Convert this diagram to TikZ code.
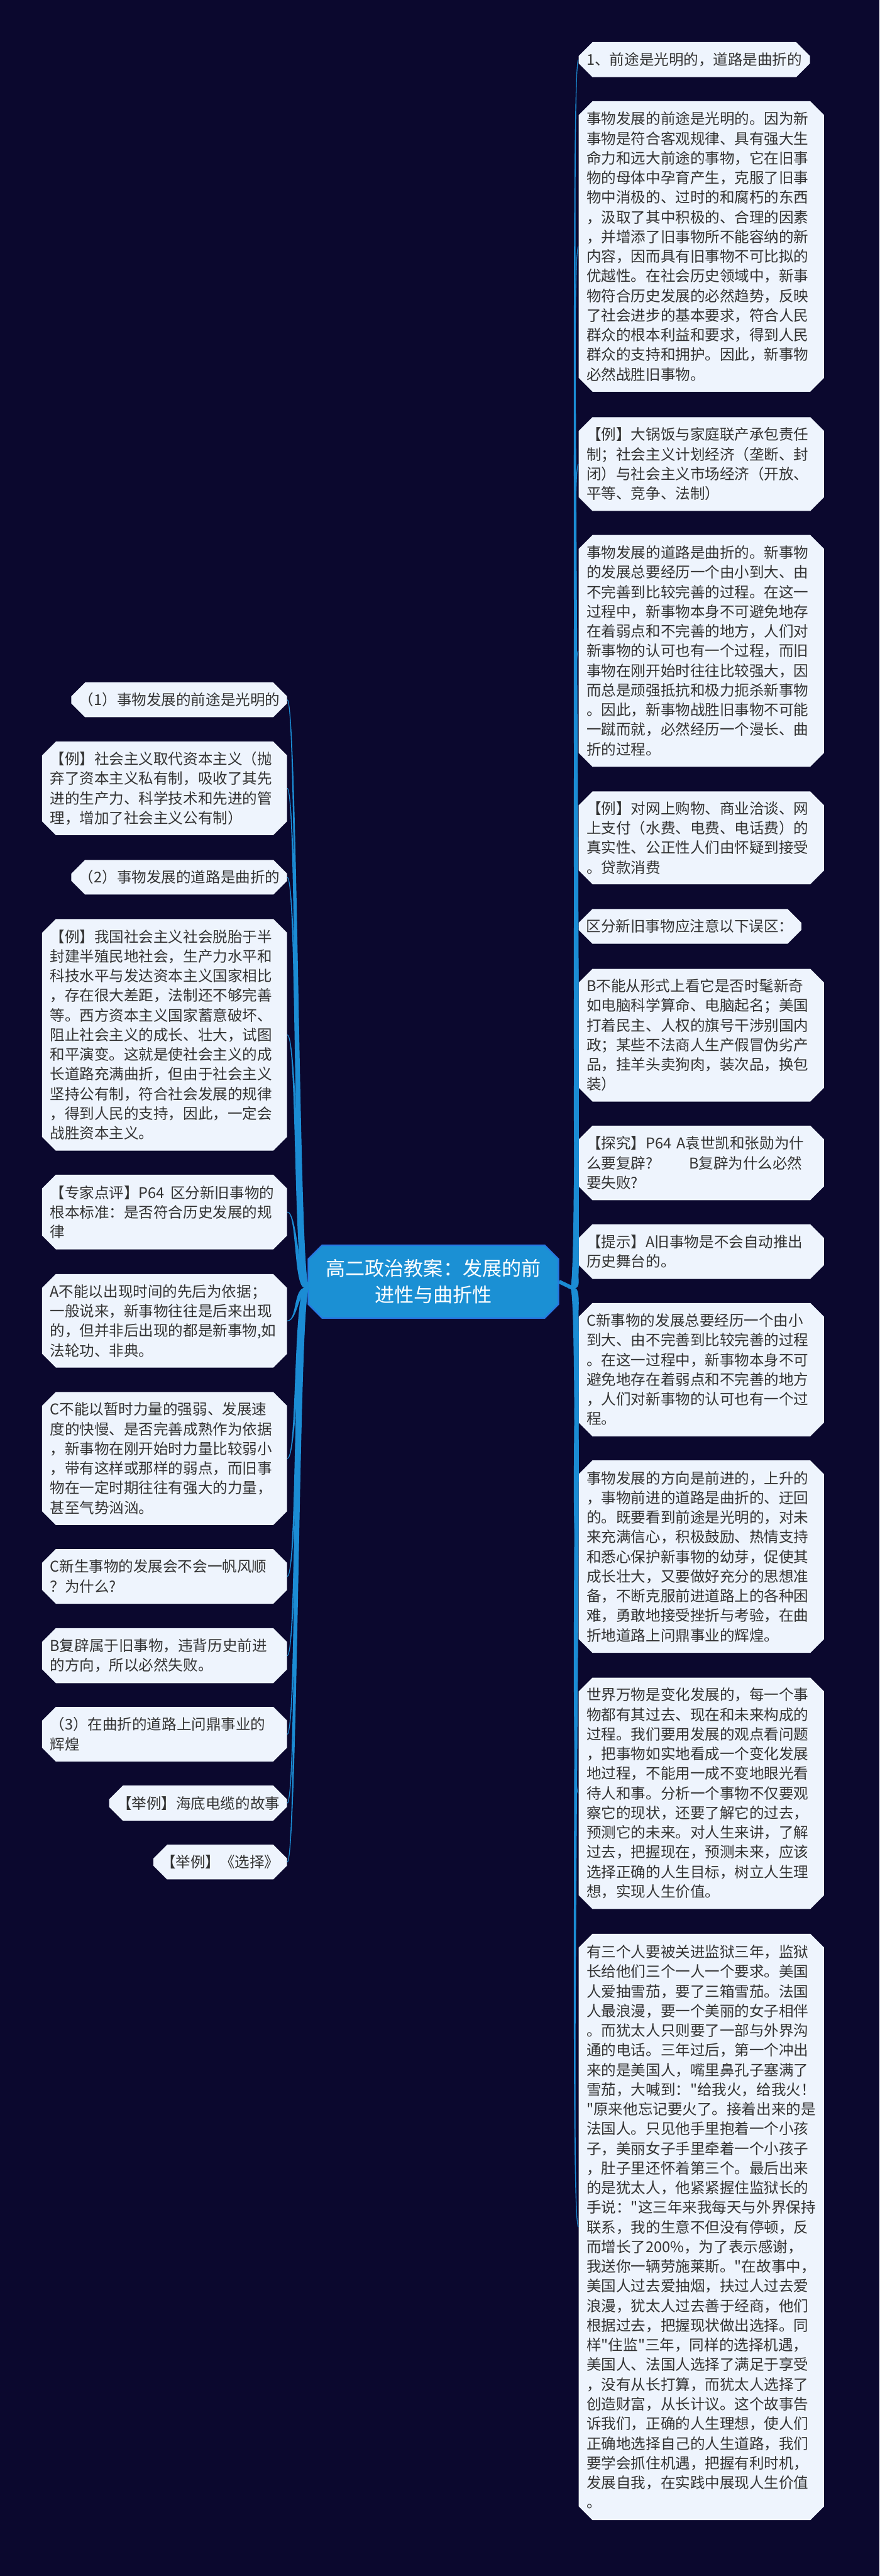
\documentclass[tikz,border=0pt]{standalone}
\usepackage{fontspec}
\setmainfont{Noto Sans CJK SC}[Ligatures=TeXOff]
\usetikzlibrary{calc,shapes.misc}
\definecolor{bgc}{RGB}{11,8,46}
\definecolor{leafc}{RGB}{238,244,253}
\definecolor{inkc}{RGB}{51,51,51}
\definecolor{twigc}{RGB}{27,140,212}
\definecolor{rootc}{RGB}{27,144,212}
\definecolor{rootline}{RGB}{40,118,226}
\newcommand{\leaffont}{\fontsize{12.26pt}{16.27pt}\selectfont}
\newcommand{\rootfont}{\fontsize{16.2pt}{21.9pt}\selectfont}
\newcommand{\rtwig}[1]{\filldraw[twig] ($(rr)+(-0.05,0)$) .. controls +(0.3,0) and +(-0.3,0) .. (#1.west) .. controls +(-0.3,0) and +(0.35,0) .. ($(rr)+(0.05,0)$) -- cycle;}
\newcommand{\ltwig}[1]{\filldraw[twig] ($(lr)+(0.05,0)$) .. controls +(-0.3,0) and +(0.3,0) .. (#1.east) .. controls +(0.3,0) and +(-0.35,0) .. ($(lr)+(-0.05,0)$) -- cycle;}

\begin{document}
\begin{tikzpicture}[y=-1cm,
    leaf/.style={chamfered rectangle, chamfered rectangle xsep=0.2cm, chamfered rectangle ysep=0.2cm,
        fill=leafc, text=inkc, anchor=north west, inner xsep=0pt, inner ysep=0pt, align=left, font=\leaffont},
    wide/.style={minimum width=7.14cm, text width=6.68cm},
    lwide/.style={minimum width=7.13cm, text width=6.67cm},
    twig/.style={fill=twigc, draw=twigc, line width=0.02cm},
    stub/.style={twigc, line width=0.11cm}]
    \useasboundingbox (0,0) rectangle (25.6,74.94);
    \fill[bgc] (0,0) rectangle (25.6,74.94);

    \node[leaf, chamfered rectangle xsep=0.2cm, chamfered rectangle ysep=0.2cm, fill=rootc, draw=rootline, line width=0.04cm,
        text=white, align=center, font=\rootfont, minimum width=7.28cm, minimum height=2.12cm] (ctr) at (9.16,36.41)
        {高二政治教案：发展的前\\进性与曲折性};
    \coordinate (rr) at (16.66,37.47);
    \coordinate (lr) at (8.94,37.47);

    \node[leaf, minimum width=6.73cm, text width=6.27cm, minimum height=1.02cm] (r1) at (17.04,1.42)
        {1、前途是光明的，道路是曲折的};
    \node[leaf, wide, minimum height=8.45cm] (r2) at (17.04,3.14)
        {事物发展的前途是光明的。因为新\\事物是符合客观规律、具有强大生\\命力和远大前途的事物，它在旧事\\物的母体中孕育产生，克服了旧事\\物中消极的、过时的和腐朽的东西\\，汲取了其中积极的、合理的因素\\，并增添了旧事物所不能容纳的新\\内容，因而具有旧事物不可比拟的\\优越性。在社会历史领域中，新事\\物符合历史发展的必然趋势，反映\\了社会进步的基本要求，符合人民\\群众的根本利益和要求，得到人民\\群众的支持和拥护。因此，新事物\\必然战胜旧事物。};
    \node[leaf, wide, minimum height=2.73cm] (r3) at (17.04,12.33)
        {【例】大锅饭与家庭联产承包责任\\制；社会主义计划经济（垄断、封\\闭）与社会主义市场经济（开放、\\平等、竞争、法制）};
    \node[leaf, wide, minimum height=6.74cm] (r4) at (17.04,15.76)
        {事物发展的道路是曲折的。新事物\\的发展总要经历一个由小到大、由\\不完善到比较完善的过程。在这一\\过程中，新事物本身不可避免地存\\在着弱点和不完善的地方，人们对\\新事物的认可也有一个过程，而旧\\事物在刚开始时往往比较强大，因\\而总是顽强抵抗和极力扼杀新事物\\。因此，新事物战胜旧事物不可能\\一蹴而就，必然经历一个漫长、曲\\折的过程。};
    \node[leaf, wide, minimum height=2.70cm] (r5) at (17.04,23.22)
        {【例】对网上购物、商业洽谈、网\\上支付（水费、电费、电话费）的\\真实性、公正性人们由怀疑到接受\\。贷款消费};
    \node[leaf, minimum width=6.48cm, text width=6.04cm, minimum height=1.01cm] (r6) at (17.04,26.64)
        {区分新旧事物应注意以下误区：};
    \node[leaf, wide, minimum height=3.86cm] (r7) at (17.04,28.38)
        {B不能从形式上看它是否时髦新奇\\如电脑科学算命、电脑起名；美国\\打着民主、人权的旗号干涉别国内\\政；某些不法商人生产假冒伪劣产\\品，挂羊头卖狗肉，装次品，换包\\装）};
    \node[leaf, wide, minimum height=2.17cm] (r8) at (17.04,32.94)
        {【探究】P64 A袁世凯和张勋为什\\么要复辟?\hspace{1.05cm}B复辟为什么必然\\要失败?};
    \node[leaf, wide, minimum height=1.59cm] (r9) at (17.04,35.81)
        {【提示】A旧事物是不会自动推出\\历史舞台的。};
    \node[leaf, wide, minimum height=3.88cm] (r10) at (17.04,38.10)
        {C新事物的发展总要经历一个由小\\到大、由不完善到比较完善的过程\\。在这一过程中，新事物本身不可\\避免地存在着弱点和不完善的地方\\，人们对新事物的认可也有一个过\\程。};
    \node[leaf, wide, minimum height=5.60cm] (r11) at (17.04,42.68)
        {事物发展的方向是前进的，上升的\\，事物前进的道路是曲折的、迂回\\的。既要看到前途是光明的，对未\\来充满信心，积极鼓励、热情支持\\和悉心保护新事物的幼芽，促使其\\成长壮大，又要做好充分的思想准\\备，不断克服前进道路上的各种困\\难，勇敢地接受挫折与考验，在曲\\折地道路上问鼎事业的辉煌。};
    \node[leaf, wide, minimum height=6.73cm] (r12) at (17.04,49.00)
        {世界万物是变化发展的，每一个事\\物都有其过去、现在和未来构成的\\过程。我们要用发展的观点看问题\\，把事物如实地看成一个变化发展\\地过程，不能用一成不变地眼光看\\待人和事。分析一个事物不仅要观\\察它的现状，还要了解它的过去，\\预测它的未来。对人生来讲，了解\\过去，把握现在，预测未来，应该\\选择正确的人生目标，树立人生理\\想，实现人生价值。};
    \node[leaf, wide, minimum height=17.06cm] (r13) at (17.04,56.45)
        {有三个人要被关进监狱三年，监狱\\长给他们三个一人一个要求。美国\\人爱抽雪茄，要了三箱雪茄。法国\\人最浪漫，要一个美丽的女子相伴\\。而犹太人只则要了一部与外界沟\\通的电话。三年过后，第一个冲出\\来的是美国人，嘴里鼻孔子塞满了\\雪茄，大喊到："给我火，给我火！\\"原来他忘记要火了。接着出来的是\\法国人。只见他手里抱着一个小孩\\子，美丽女子手里牵着一个小孩子\\，肚子里还怀着第三个。最后出来\\的是犹太人，他紧紧握住监狱长的\\手说："这三年来我每天与外界保持\\联系，我的生意不但没有停顿，反\\而增长了200\%，为了表示感谢，\\我送你一辆劳施莱斯。"在故事中，\\美国人过去爱抽烟，扶过人过去爱\\浪漫，犹太人过去善于经商，他们\\根据过去，把握现状做出选择。同\\样"住监"三年，同样的选择机遇，\\美国人、法国人选择了满足于享受\\，没有从长打算，而犹太人选择了\\创造财富，从长计议。这个故事告\\诉我们，正确的人生理想，使人们\\正确地选择自己的人生道路，我们\\要学会抓住机遇，把握有利时机，\\发展自我，在实践中展现人生价值\\。};

    \node[leaf, minimum width=6.28cm, text width=5.82cm, minimum height=1.01cm] (l1) at (2.27,20.05)
        {（1）事物发展的前途是光明的};
    \node[leaf, lwide, minimum height=2.72cm] (l2) at (1.42,21.77)
        {【例】社会主义取代资本主义（抛\\弃了资本主义私有制，吸收了其先\\进的生产力、科学技术和先进的管\\理，增加了社会主义公有制）};
    \node[leaf, minimum width=6.28cm, text width=5.82cm, minimum height=1.01cm] (l3) at (2.27,25.21)
        {（2）事物发展的道路是曲折的};
    \node[leaf, lwide, minimum height=6.74cm] (l4) at (1.42,26.93)
        {【例】我国社会主义社会脱胎于半\\封建半殖民地社会，生产力水平和\\科技水平与发达资本主义国家相比\\，存在很大差距，法制还不够完善\\等。西方资本主义国家蓄意破坏、\\阻止社会主义的成长、壮大，试图\\和平演变。这就是使社会主义的成\\长道路充满曲折，但由于社会主义\\坚持公有制，符合社会发展的规律\\，得到人民的支持，因此，一定会\\战胜资本主义。};
    \node[leaf, lwide, minimum height=2.17cm] (l5) at (1.42,34.37)
        {【专家点评】P64\hspace{0.4em}区分新旧事物的\\根本标准：是否符合历史发展的规\\律};
    \node[leaf, lwide, minimum height=2.72cm] (l6) at (1.42,37.26)
        {A不能以出现时间的先后为依据；\\一般说来，新事物往往是后来出现\\的，但并非后出现的都是新事物,如\\法轮功、非典。};
    \node[leaf, lwide, minimum height=3.87cm] (l7) at (1.42,40.69)
        {C不能以暂时力量的强弱、发展速\\度的快慢、是否完善成熟作为依据\\，新事物在刚开始时力量比较弱小\\，带有这样或那样的弱点，而旧事\\物在一定时期往往有强大的力量，\\甚至气势汹汹。};
    \node[leaf, lwide, minimum height=1.59cm] (l8) at (1.42,45.26)
        {C新生事物的发展会不会一帆风顺\\？为什么?};
    \node[leaf, lwide, minimum height=1.60cm] (l9) at (1.42,47.56)
        {B复辟属于旧事物，违背历史前进\\的方向，所以必然失败。};
    \node[leaf, lwide, minimum height=1.59cm] (l10) at (1.42,49.85)
        {（3）在曲折的道路上问鼎事业的\\辉煌};
    \node[leaf, minimum width=5.18cm, text width=4.72cm, minimum height=1.02cm] (l11) at (3.37,52.14)
        {【举例】海底电缆的故事};
    \node[leaf, minimum width=3.89cm, text width=3.45cm, minimum height=1.01cm] (l12) at (4.66,53.86)
        {【举例】《选择》};

    \draw[stub] (ctr.east) -- (rr);
    \draw[stub] (ctr.west) -- (lr);
    \foreach \i in {1,...,13}
        \rtwig{r\i};
    \foreach \i in {1,...,12}
        \ltwig{l\i};
\end{tikzpicture}
\end{document}
